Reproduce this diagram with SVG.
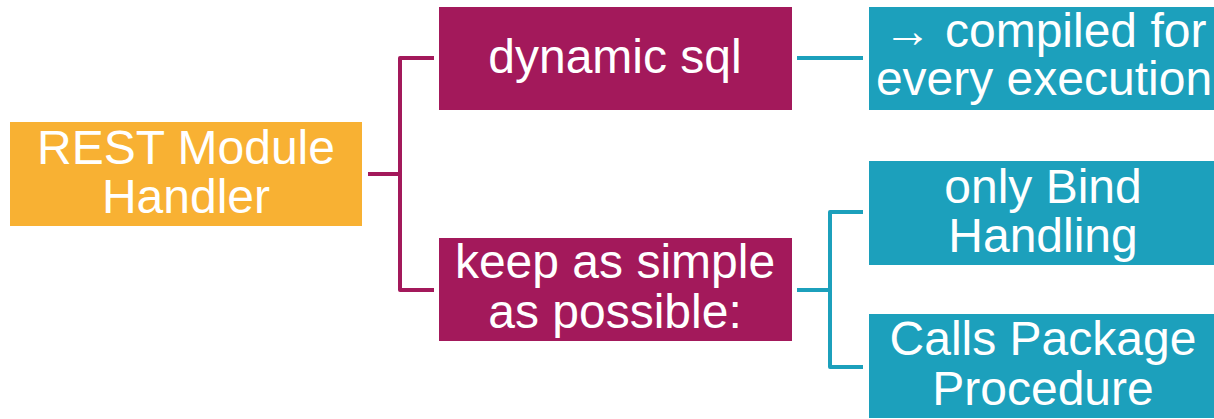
<svg xmlns="http://www.w3.org/2000/svg" width="1214" height="419" viewBox="0 0 1214 419">
<style>
text{font-family:"Liberation Sans",Arial,sans-serif;font-size:48px;fill:#ffffff;text-anchor:middle}
.or{fill:#F8B133}
.mg{fill:#A3195B}
.tl{fill:#1CA0BC}
.cm{fill:none;stroke:#A3195B;stroke-width:4;stroke-linejoin:round}
.ct{fill:none;stroke:#1CA0BC;stroke-width:4;stroke-linejoin:round}
</style>
<rect width="1214" height="419" fill="#ffffff"/>
<g id="connectors">
<path class="cm" d="M368,174 H400 M434,58 H400 V290 H434"/>
<path class="ct" d="M797,58 H863"/>
<path class="ct" d="M797,290 H830 M863,212 H830 V367 H863"/>
</g>
<g id="rest">
<rect class="or" x="10" y="122" width="352" height="104"/>
<text x="186" y="164">REST Module</text>
<text x="186" y="213">Handler</text>
</g>
<g id="dynamic">
<rect class="mg" x="439" y="7" width="353" height="103"/>
<text x="615" y="73">dynamic sql</text>
</g>
<g id="simple">
<rect class="mg" x="439" y="238" width="353" height="103"/>
<text x="615" y="278">keep as simple</text>
<text x="615" y="328">as possible:</text>
</g>
<g id="compiled">
<rect class="tl" x="869" y="7" width="345" height="103"/>
<text x="1045" y="47">→ compiled for</text>
<text x="1044" y="95">every execution</text>
</g>
<g id="bind">
<rect class="tl" x="869" y="161" width="345" height="104"/>
<text x="1043" y="203">only Bind</text>
<text x="1043" y="252">Handling</text>
</g>
<g id="calls">
<rect class="tl" x="869" y="314" width="345" height="104"/>
<text x="1043" y="355">Calls Package</text>
<text x="1043" y="405">Procedure</text>
</g>
</svg>
